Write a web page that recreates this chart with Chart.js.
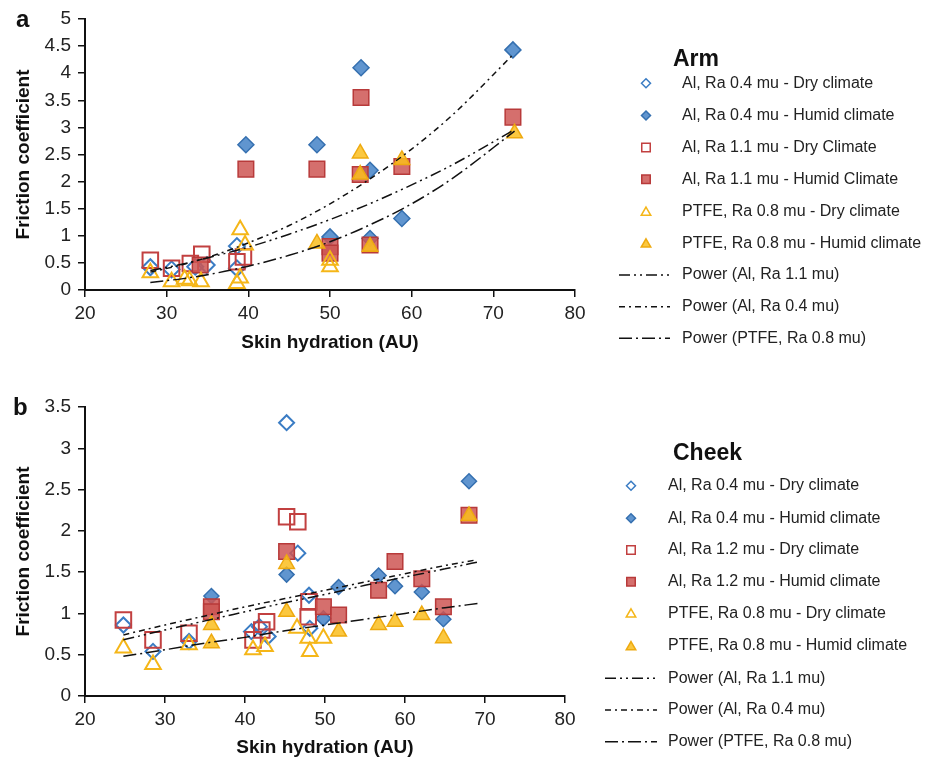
<!DOCTYPE html>
<html><head><meta charset="utf-8">
<script src="https://cdn.jsdelivr.net/npm/chart.js@4.4.1/dist/chart.umd.min.js"></script>
<style>
html,body{margin:0;padding:0;background:#fff;width:935px;height:762px;overflow:hidden}
canvas{position:absolute;left:0}
#ca{top:0}
#cb{top:380px}
</style></head><body>
<canvas id="ca" width="935" height="375"></canvas>
<canvas id="cb" width="935" height="382"></canvas>
<script>
// ---------- Panel a: Arm ----------
const armAl04Dry   = [[28.0,0.42],[30.6,0.38],[33.5,0.43],[34.9,0.46],[38.6,0.81],[38.6,0.40]];
const armAl04Humid = [[39.7,2.68],[48.4,2.68],[53.8,4.10],[54.9,2.21],[58.8,1.32],[50.0,0.98],[54.9,0.95],[72.4,4.43]];
const armAl11Dry   = [[28.0,0.55],[30.6,0.40],[32.9,0.49],[34.3,0.66],[38.6,0.52],[39.4,0.61]];
const armAl11Humid = [[39.7,2.23],[48.4,2.23],[53.8,3.55],[53.7,2.13],[58.8,2.28],[50.0,0.80],[50.0,0.68],[54.9,0.83],[34.1,0.46],[72.4,3.19]];
const armPTFEDry   = [[28.0,0.32],[30.6,0.15],[32.2,0.20],[32.8,0.17],[34.2,0.15],[39.0,1.11],[39.6,0.83],[38.6,0.12],[39.0,0.22],[50.0,0.55],[50.0,0.43]];
const armPTFEHumid = [[53.7,2.52],[53.7,2.13],[58.8,2.40],[48.4,0.86],[54.9,0.80],[72.6,2.89]];
const armFitAl11 = [[28,0.36],[32,0.48],[36,0.63],[40,0.79],[45,1.03],[50,1.30],[55,1.60],[60,1.94],[65,2.31],[72.6,2.96]];
const armFitAl04 = [[28,0.33],[32,0.47],[36,0.65],[40,0.87],[45,1.19],[50,1.59],[55,2.06],[60,2.60],[65,3.23],[72.4,4.34]];
const armFitPTFE = [[28,0.14],[32,0.21],[36,0.31],[40,0.44],[45,0.64],[50,0.89],[55,1.21],[60,1.59],[65,2.06],[72.6,2.93]];
const armLabels = ['Al, Ra 0.4 mu - Dry climate','Al, Ra 0.4 mu - Humid climate','Al, Ra 1.1 mu - Dry Climate','Al, Ra 1.1 mu - Humid Climate','PTFE, Ra 0.8 mu - Dry climate','PTFE, Ra 0.8 mu - Humid climate','Power (Al, Ra 1.1 mu)','Power (Al, Ra 0.4 mu)','Power (PTFE, Ra 0.8 mu)'];
const armYTicks = [0,0.5,1,1.5,2,2.5,3,3.5,4,4.5,5];

// ---------- Panel b: Cheek ----------
const cheekAl04Dry   = [[24.8,0.86],[28.5,0.54],[33.0,0.66],[40.8,0.78],[41.8,0.84],[42.9,0.72],[45.2,3.31],[46.6,1.73],[48.0,1.22],[48.1,0.82]];
const cheekAl04Humid = [[35.8,1.21],[45.2,1.47],[49.8,0.94],[51.7,1.32],[56.7,1.46],[58.75,1.33],[62.1,1.26],[64.8,0.93],[68.0,2.60]];
const cheekAl12Dry   = [[24.8,0.92],[28.5,0.68],[33.0,0.76],[41.0,0.68],[42.1,0.80],[42.7,0.90],[45.2,2.17],[46.6,2.11],[47.9,0.96],[48.0,1.14]];
const cheekAl12Humid = [[35.8,1.08],[35.8,1.02],[45.2,1.75],[49.8,1.08],[51.7,0.98],[56.7,1.28],[58.75,1.63],[62.1,1.42],[64.8,1.08],[68.0,2.19]];
const cheekPTFEDry   = [[24.8,0.58],[28.5,0.38],[33.0,0.62],[41.0,0.56],[42.5,0.60],[46.5,0.82],[47.9,0.70],[48.1,0.54],[49.8,0.70]];
const cheekPTFEHumid = [[35.8,0.86],[35.8,0.64],[45.2,1.02],[45.2,1.60],[51.7,0.78],[56.7,0.86],[58.75,0.90],[62.1,0.98],[64.8,0.70],[68.0,2.18]];
const cheekFitAl11 = [[24.8,0.68],[30,0.80],[35,0.91],[40,1.02],[45,1.13],[50,1.23],[55,1.34],[60,1.44],[65,1.54],[69,1.62]];
const cheekFitAl04 = [[24.8,0.74],[30,0.86],[35,0.97],[40,1.08],[45,1.18],[50,1.28],[55,1.38],[60,1.48],[65,1.58],[69,1.65]];
const cheekFitPTFE = [[24.8,0.48],[30,0.56],[35,0.64],[40,0.71],[45,0.79],[50,0.86],[55,0.93],[60,1.00],[65,1.07],[69.1,1.12]];
const cheekLabels = ['Al, Ra 0.4 mu - Dry climate','Al, Ra 0.4 mu - Humid climate','Al, Ra 1.2 mu - Dry climate','Al, Ra 1.2 mu - Humid climate','PTFE, Ra 0.8 mu - Dry climate','PTFE, Ra 0.8 mu - Humid climate','Power (Al, Ra 1.1 mu)','Power (Al, Ra 0.4 mu)','Power (PTFE, Ra 0.8 mu)'];
const cheekYTicks = [0,0.5,1,1.5,2,2.5,3,3.5];

const xTicks = [20,30,40,50,60,70,80];

// ---------- styles ----------
const FONT = '"Liberation Sans", Arial, Helvetica, sans-serif';
const BLUE_F='rgba(74,134,200,0.88)', BLUE_B='#3570b0', BLUE_O='#3a7cc4';
const RED_F='rgba(206,86,84,0.85)', RED_B='#b83a3a', RED_O='#c24040';
const YEL_F='rgba(250,190,30,0.85)', YEL_B='#eeaa10', YEL_O='#f5b618';
const DASH_AL11=[11,4,2,4,2,4], DASH_AL04=[6,4,2,4], DASH_PTFE=[13,4,2,4];
const pts = a => a.map(p => ({x:p[0], y:p[1]}));

function markerSets(series, labels, diaR){
  const st = [
    {ps:'rectRot', r:diaR, f:'rgba(0,0,0,0)', b:BLUE_O, w:2, o:6},
    {ps:'rectRot', r:diaR, f:BLUE_F, b:BLUE_B, w:1.5, o:5},
    {ps:'rect', r:11, f:'rgba(0,0,0,0)', b:RED_O, w:2, o:4},
    {ps:'rect', r:11, f:RED_F, b:RED_B, w:1.5, o:3},
    {ps:'triangle', r:9, f:'rgba(0,0,0,0)', b:YEL_O, w:2, o:2},
    {ps:'triangle', r:9, f:YEL_F, b:YEL_B, w:1.5, o:1}
  ];
  return series.map((s,i)=>({
    label:labels[i], data:pts(s), pointStyle:st[i].ps, pointRadius:st[i].r, pointHoverRadius:st[i].r,
    backgroundColor:st[i].f, borderColor:st[i].b, pointBorderWidth:st[i].w, borderWidth:st[i].w,
    order:st[i].o, showLine:false, filled: st[i].f !== 'rgba(0,0,0,0)'
  }));
}
function fitSets(fits, labels){
  const d=[DASH_AL11, DASH_AL04, DASH_PTFE];
  return fits.map((f,i)=>({
    label:labels[6+i], data:pts(f), showLine:true, pointRadius:0, pointHoverRadius:0,
    borderColor:'#111', backgroundColor:'#111', borderWidth:1.5, borderDash:d[i],
    cubicInterpolationMode:'monotone', fill:false, order:0
  }));
}

function drawShape(ctx, style, x, y, r){
  ctx.beginPath();
  if(style==='rectRot'){ ctx.moveTo(x,y-r); ctx.lineTo(x+r,y); ctx.lineTo(x,y+r); ctx.lineTo(x-r,y); ctx.closePath(); }
  else if(style==='rect'){ const s=r*Math.SQRT1_2; ctx.rect(x-s,y-s,2*s,2*s); }
  else { const a=2*Math.PI/3; ctx.moveTo(x,y-r); ctx.lineTo(x+Math.sin(a)*r,y-Math.cos(a)*r); ctx.lineTo(x-Math.sin(a)*r,y-Math.cos(a)*r); ctx.closePath(); }
}

const legendPlugin = {
  id:'customLegend',
  afterDraw(chart, args, o){
    const ctx=chart.ctx; ctx.save();
    ctx.fillStyle='#111'; ctx.textAlign='left';
    ctx.font='bold 24px '+FONT; ctx.textBaseline='alphabetic';
    ctx.fillText(o.letter, o.letterX, o.letterY);
    ctx.font='bold 23px '+FONT; ctx.textBaseline='middle';
    ctx.fillText(o.title, o.titleX, o.titleY);
    ctx.font='16px '+FONT; ctx.fillStyle='#222';
    chart.data.datasets.forEach((ds,i)=>{
      const y=o.ys[i];
      if(ds.showLine){
        ctx.save(); ctx.strokeStyle='#111'; ctx.lineWidth=1.5; ctx.setLineDash(ds.borderDash);
        ctx.beginPath(); ctx.moveTo(o.lineX0,y); ctx.lineTo(o.lineX1,y); ctx.stroke(); ctx.restore();
      } else {
        const r = ds.pointStyle==='rect'?6:(ds.pointStyle==='triangle'?5.5:4.5);
        drawShape(ctx, ds.pointStyle, o.markX, ds.pointStyle==='triangle'?y+1:y, r);
        ctx.fillStyle= ds.filled ? ds.backgroundColor : '#fff'; ctx.fill();
        ctx.lineWidth=1.5; ctx.strokeStyle=ds.borderColor; ctx.stroke();
      }
      ctx.fillStyle='#222';
      ctx.fillText(ds.label, o.textX, y);
    });
    ctx.restore();
  }
};

function makeChart(id, datasets, yMax, yTicks, layout, xH, xTitlePad, legend){
  return new Chart(document.getElementById(id), {
    type:'scatter',
    data:{datasets},
    plugins:[legendPlugin],
    options:{
      responsive:false, animation:false, devicePixelRatio:1,
      layout:{padding:layout},
      plugins:{legend:{display:false}, tooltip:{enabled:false}, customLegend:legend},
      scales:{
        x:{type:'linear', min:20, max:80,
          afterBuildTicks:s=>{s.ticks=xTicks.map(v=>({value:v}));},
          afterFit:s=>{s.height=xH;},
          grid:{drawOnChartArea:false, drawTicks:true, tickLength:7, color:'#111', lineWidth:1.5},
          border:{display:true, color:'#111', width:2},
          ticks:{color:'#222', font:{family:FONT, size:19}, padding:5, callback:v=>String(v)},
          title:{display:true, text:'Skin hydration (AU)', color:'#111', font:{family:FONT, size:19, weight:'bold'}, padding:{top:0,bottom:xTitlePad}}
        },
        y:{type:'linear', min:0, max:yMax,
          afterBuildTicks:s=>{s.ticks=yTicks.map(v=>({value:v}));},
          afterFit:s=>{s.width=85;},
          grid:{drawOnChartArea:false, drawTicks:true, tickLength:7, color:'#111', lineWidth:1.5},
          border:{display:true, color:'#111', width:2},
          ticks:{color:'#222', font:{family:FONT, size:19}, padding:7, callback:v=>String(v)},
          title:{display:true, text:'Friction coefficient', color:'#111', font:{family:FONT, size:19, weight:'bold'}, padding:{top:12,bottom:0}}
        }
      }
    }
  });
}

const armSets = markerSets([armAl04Dry,armAl04Humid,armAl11Dry,armAl11Humid,armPTFEDry,armPTFEHumid], armLabels, 8)
  .concat(fitSets([armFitAl11,armFitAl04,armFitPTFE], armLabels));
makeChart('ca', armSets, 5, armYTicks, {left:0, top:19, right:360, bottom:0}, 85, 21,
  {letter:'a', letterX:16, letterY:27, title:'Arm', titleX:673, titleY:60,
   ys:[83.3,115.5,147.5,179.3,211.5,243.3,275,306.7,338.3], markX:646, lineX0:619, lineX1:670, textX:682});

const cheekSets = markerSets([cheekAl04Dry,cheekAl04Humid,cheekAl12Dry,cheekAl12Humid,cheekPTFEDry,cheekPTFEHumid], cheekLabels, 7.5)
  .concat(fitSets([cheekFitAl11,cheekFitAl04,cheekFitPTFE], cheekLabels));
makeChart('cb', cheekSets, 3.5, cheekYTicks, {left:0, top:27, right:370, bottom:0}, 66, 3,
  {letter:'b', letterX:13, letterY:35, title:'Cheek', titleX:673, titleY:73.3,
   ys:[105.7,138.3,170,201.7,233.3,266,298.3,330,361.7], markX:631, lineX0:605, lineX1:657, textX:668});
</script>
</body></html>
